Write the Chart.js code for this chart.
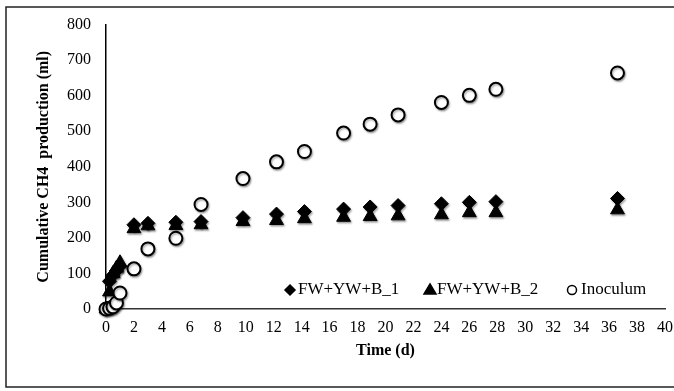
<!DOCTYPE html>
<html>
<head>
<meta charset="utf-8">
<script src="https://cdn.jsdelivr.net/npm/chart.js@4/dist/chart.umd.min.js"></script>
<style>
body { margin:0; background:#fff; }
#wrap { position:relative; width:674px; height:391px; }
</style>
</head>
<body>
<div id="wrap"><canvas id="c"></canvas></div>
<script>
// days
const waktu = [0, 0.25, 0.5, 0.75, 1, 2, 3, 5, 6.8, 9.8, 12.2, 14.2, 17, 18.9, 20.9, 24, 26, 27.9, 36.6]
const fw1 = [0, 78, 95, 108, 120, 237, 241, 244, 246, 257, 267, 274, 281, 287, 291, 296, 300, 302, 311]
const fw2 = [0, 48, 100, 115, 130, 226, 234, 235, 237, 246, 249, 254, 258, 260, 262, 265, 271, 271, 279]
const inok = [0, 2, 6, 17, 45, 113, 169, 199, 294, 367, 414, 443, 495, 520, 546, 581, 601, 618, 664]
const label = ['FW+YW+B_1', 'FW+YW+B_2', 'Inoculum']
const xTicks = [0, 40, 2]
const yTicks = [0, 800, 100]

const font = 'Liberation Serif'
const pts = ys => ys.map((y, i) => ({x: waktu[i], y}))

// legend slots: marker centre, text start
const slot = [[290, 298], [430, 437], [572, 581]]

// frame + marker shadow + legend inside plot
const hiasan = {
	id: 'hiasan',
	beforeDraw: ch => {
		const c = ch.ctx
		c.save()
		c.strokeStyle = '#222'
		c.lineWidth = 1.5
		c.strokeRect(6, 7, 700, 380)
		c.restore()
	},
	beforeDatasetsDraw: ch => {
		const c = ch.ctx
		c.save()
		c.shadowColor = 'rgba(0,0,0,0.35)'
		c.shadowBlur = 2
		c.shadowOffsetX = 1
		c.shadowOffsetY = 1.5
	},
	afterDatasetsDraw: ch => ch.ctx.restore(),
	afterDraw: ch => {
		const c = ch.ctx
		c.save()
		c.font = '17px "' + font + '"'
		c.textBaseline = 'middle'
		const y = 290
		ch.data.datasets.forEach((d, i) => {
			const mx = slot[i][0]
			c.beginPath()
			if (d.pointStyle == 'rectRot') {
				c.moveTo(mx, y - 5); c.lineTo(mx + 5, y); c.lineTo(mx, y + 5); c.lineTo(mx - 5, y)
			} else if (d.pointStyle == 'triangle') {
				c.moveTo(mx, y - 6); c.lineTo(mx + 6, y + 4); c.lineTo(mx - 6, y + 4)
			} else {
				c.arc(mx, y, 4.5, 0, Math.PI * 2)
			}
			c.closePath()
			c.fillStyle = d.backgroundColor
			c.fill()
			c.lineWidth = 1.5
			c.strokeStyle = '#000'
			c.stroke()
			c.fillStyle = '#000'
			c.fillText(d.label, slot[i][1], y)
		})
		c.restore()
	}
}

new Chart(document.getElementById('c'), {
	type: 'scatter',
	data: {
		datasets: [{
			label: label[0],
			data: pts(fw1),
			pointStyle: 'rectRot',
			radius: 7,
			backgroundColor: '#000',
			borderColor: '#000',
			borderWidth: 1,
			order: 1,
			clip: false,
		}, {
			label: label[1],
			data: pts(fw2),
			pointStyle: 'triangle',
			radius: 8,
			backgroundColor: '#000',
			borderColor: '#000',
			borderWidth: 1,
			order: 2,
			clip: false,
		}, {
			label: label[2],
			data: pts(inok),
			pointStyle: 'circle',
			radius: 6.5,
			backgroundColor: '#fff',
			borderColor: '#000',
			borderWidth: 2,
			order: 0,
			clip: false,
		}]
	},
	options: {
		responsive: true,
		maintainAspectRatio: false,
		animation: false,
		layout: { padding: { left: 34, top: 20, right: 6, bottom: 31 } },
		plugins: {
			legend: { display: false },
			tooltip: { enabled: false },
		},
		scales: {
			x: {
				type: 'linear',
				min: xTicks[0], max: xTicks[1],
				grid: { display: false, drawTicks: false },
				border: { display: true, color: '#333', width: 1.5 },
				ticks: { stepSize: xTicks[2], color: '#000', padding: 9, maxRotation: 0, autoSkip: false, font: { family: font, size: 16 } },
				title: { display: true, text: 'Time (d)', color: '#000', padding: 0, font: { family: font, size: 16, weight: 'bold' } },
				afterFit: s => { s.height = 51; s.paddingLeft = 0; s.paddingRight = 0 },
			},
			y: {
				min: yTicks[0], max: yTicks[1],
				grid: { display: false, drawTicks: false },
				border: { display: true, color: '#000', width: 1.5 },
				ticks: { stepSize: yTicks[2], color: '#000', padding: 15, font: { family: font, size: 16 } },
				title: { display: true, text: 'Cumulative CH4  production (ml)', color: '#000', padding: 0, font: { family: font, size: 16, weight: 'bold' } },
				afterFit: s => { s.width = 72 },
			}
		}
	},
	plugins: [hiasan]
})
</script>
</body>
</html>
